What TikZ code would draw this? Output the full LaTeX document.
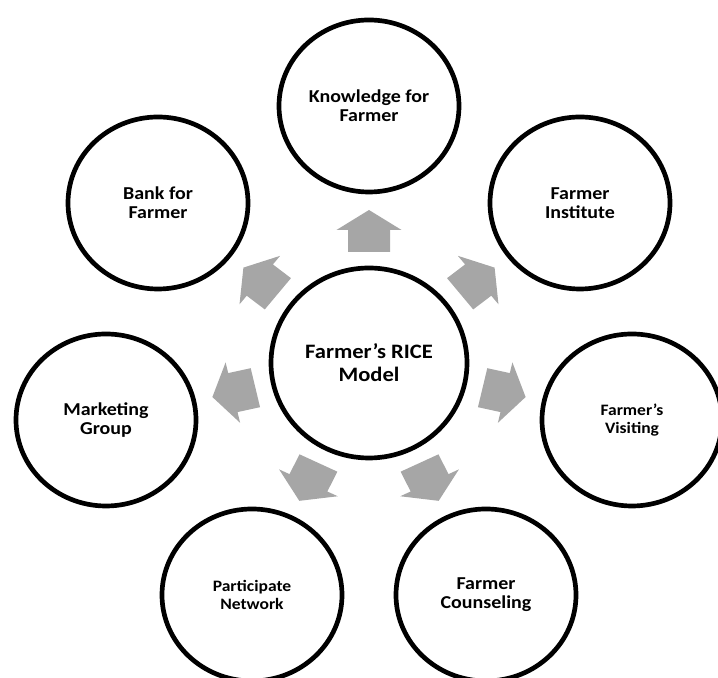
\documentclass[tikz,border=0pt]{standalone}
\usepackage{fontspec}
\setmainfont{Carlito}[FakeStretch=1.1]
\usepackage{xcolor}
\usetikzlibrary{shapes.geometric}
\definecolor{arrowgray}{RGB}{166,166,166}
\tikzstyle{bubble}=[ellipse, draw, line width=4pt, fill=white, minimum width=5.4cm, minimum height=5.16cm, inner sep=0pt, align=center, font=\bfseries\fontsize{15.5}{16.2}\selectfont]
\tikzstyle{hub}=[bubble, minimum width=5.88cm, minimum height=5.7cm, font=\bfseries\fontsize{17.5}{19.6}\selectfont]
\tikzset{smalltext/.style={font=\bfseries\fontsize{13.6}{15.6}\selectfont}}
\tikzset{blockarrow/.style={fill=arrowgray}}

\begin{document}
\begin{tikzpicture}[x=0.03cm,y=0.03cm]
  \useasboundingbox (0,0) rectangle (718,678);
  %% Hub
  \draw (369,315) node[hub] (rice) {Farmer’s RICE\\Model};

  %% Arrows going out
  \foreach \a in {90,38.57,-12.86,-64.29,-115.71,-167.14,141.43}
    \fill[blockarrow, shift={(rice.center)}, xscale=1.05, rotate=\a]
      (111,-20) -- (133,-20) -- (133,-31) -- (153,0) -- (133,31) -- (133,20) -- (111,20) -- cycle;

  %% Ring of bubbles
  \draw (369,572) node[bubble] (knowledge) {Knowledge for\\Farmer};
  \draw (580,475) node[bubble] (institute) {Farmer\\Institute};
  \draw (632,258) node[bubble, smalltext] (visiting) {Farmer’s\\Visiting};
  \draw (486,83) node[bubble] (counseling) {Farmer\\Counseling};
  \draw (252,83) node[bubble, smalltext] (network) {Participate\\Network};
  \draw (106,258) node[bubble] (marketing) {Marketing\\Group};
  \draw (158,475) node[bubble] (bank) {Bank for\\Farmer};
\end{tikzpicture}
\end{document}
